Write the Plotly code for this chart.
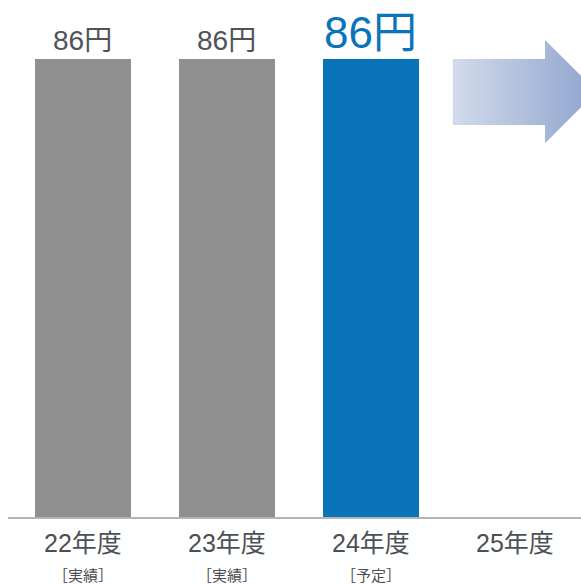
import plotly.graph_objects as go

# Fiscal-year dividend per share (yen)
years = ["22年度", "23年度", "24年度", "25年度"]
status = ["［実績］", "［実績］", "［予定］", ""]
dividends = [86, 86, 86, None]
bar_colors = ["#8e8f8e", "#8e8f8e", "#0a74bb"]
label_colors = ["#4f5358", "#4f5358", "#0a74bb"]
label_sizes = [28, 28, 44]
label_shifts = [1, 1, 0]

FONT = "Liberation Sans, Arial, Noto Sans CJK JP, sans-serif"

idx = list(range(len(years)))
fig = go.Figure()

fig.add_trace(go.Bar(
    x=idx[:3], y=dividends[:3], width=0.667,
    marker=dict(color=bar_colors, line=dict(width=0)),
    hoverinfo="skip", showlegend=False,
))

# Outlook arrow for the next year, anchored to the latest dividend level
lvl = dividends[2]
cx = idx[3]
ax = [cx - 0.43, cx + 0.21, cx + 0.21, cx + 0.57, cx + 0.21, cx + 0.21, cx - 0.43, cx - 0.43]
ay = [lvl, lvl, lvl + 3.6, lvl - 6.1, lvl - 15.8, lvl - 12.4, lvl - 12.4, lvl]
fig.add_trace(go.Scatter(
    x=ax, y=ay, mode="lines", fill="toself",
    line=dict(width=0, color="rgba(0,0,0,0)"),
    fillgradient=dict(type="horizontal",
                      colorscale=[[0, "#d3dbeb"], [1, "#8ea3cd"]]),
    hoverinfo="skip", showlegend=False,
))

annotations = []
for i in range(3):
    annotations.append(dict(
        x=idx[i], y=dividends[i], xref="x", yref="y",
        text=f"{dividends[i]}円", showarrow=False,
        yanchor="bottom", yshift=label_shifts[i],
        font=dict(family=FONT, size=label_sizes[i], color=label_colors[i]),
    ))
for i, (yr, st) in enumerate(zip(years, status)):
    annotations.append(dict(
        x=idx[i], y=0, xref="x", yref="y", text=yr, showarrow=False,
        yanchor="top", yshift=-10,
        font=dict(family=FONT, size=25, color="#4a4f55"),
    ))
    if st:
        annotations.append(dict(
            x=idx[i], y=0, xref="x", yref="y", text=st, showarrow=False,
            yanchor="top", yshift=-48,
            font=dict(family=FONT, size=15, color="#4a4f55"),
        ))

fig.update_layout(
    width=581, height=585,
    margin=dict(l=8, r=0, t=0, b=68),
    paper_bgcolor="white", plot_bgcolor="white",
    annotations=annotations,
    bargap=0,
    xaxis=dict(range=[-0.52, 3.46], showticklabels=False, showgrid=False,
               zeroline=False, showline=True, linecolor="#b4b4b4", linewidth=2,
               ticks="", fixedrange=True),
    yaxis=dict(range=[0, 97.1], visible=False, fixedrange=True),
)

fig.write_html("out.html")
